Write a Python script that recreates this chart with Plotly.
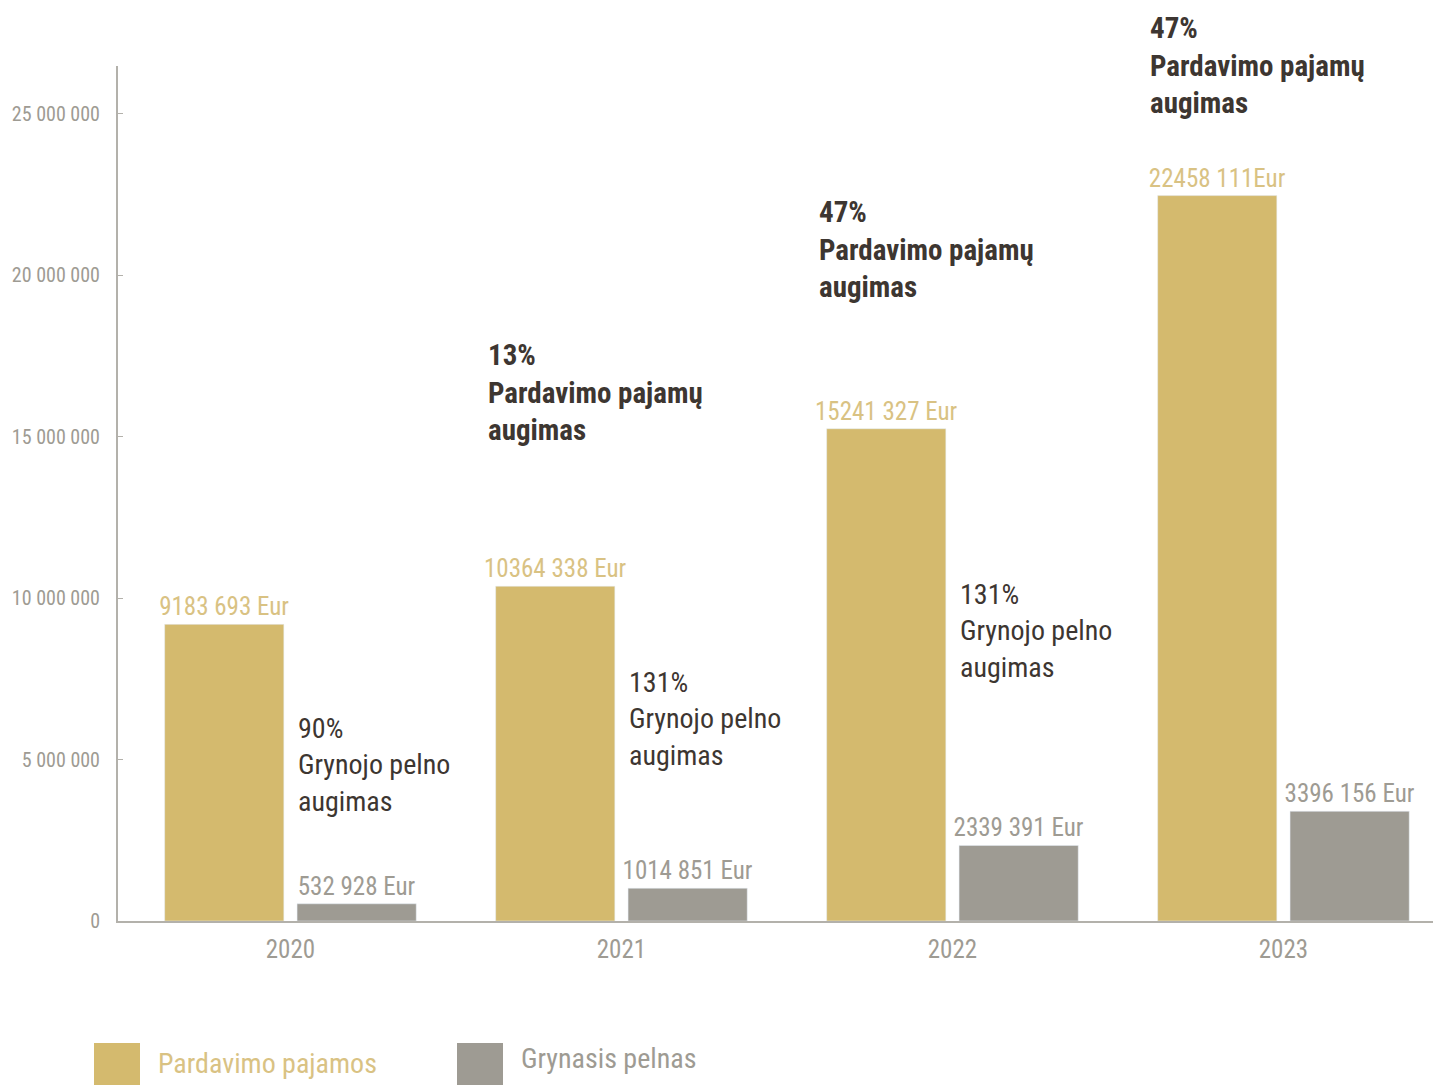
import plotly.graph_objects as go

# data
years = ["2020", "2021", "2022", "2023"]
series_names = ["Pardavimo pajamos", "Grynasis pelnas"]
revenue = [9183693, 10364338, 15241327, 22458111]
net_profit = [532928, 1014851, 2339391, 3396156]
revenue_labels = ["9183 693 Eur", "10364 338 Eur", "15241 327 Eur", "22458 111Eur"]
profit_labels = ["532 928 Eur", "1014 851 Eur", "2339 391 Eur", "3396 156 Eur"]
revenue_growth = ["", "13%", "47%", "47%"]
profit_growth = ["90%", "131%", "131%", ""]
y_ticks = [0, 5000000, 10000000, 15000000, 20000000, 25000000]
y_tick_text = ["0", "5 000 000", "10 000 000", "15 000 000", "20 000 000", "25 000 000"]

GOLD = "#d4ba6e"
GOLD_TXT = "#d9c283"
GREY = "#9e9b93"
DARK = "#3d3631"
FONT = "Roboto Condensed, Roboto, sans-serif"

fig = go.Figure()
fig.add_trace(go.Bar(x=years, y=revenue, name=series_names[0], marker_color=GOLD,
                     text=revenue_labels, textposition="outside", cliponaxis=False,
                     constraintext="none",
                     outsidetextfont=dict(color=GOLD_TXT, size=25, family=FONT)))
fig.add_trace(go.Bar(x=years, y=net_profit, name=series_names[1], marker_color=GREY,
                     text=profit_labels, textposition="outside", cliponaxis=False,
                     constraintext="none",
                     outsidetextfont=dict(color=GREY, size=25, family=FONT)))


# screen pixel row -> paper fraction (plot area shows from y=66 to y=921)
def py(p):
    return (921 - p) / 855


rev_tops = [None, 336, 193, 9]
for i, g in enumerate(revenue_growth):
    if g:
        fig.add_annotation(x=i, y=py(rev_tops[i]), xref="x", yref="paper",
                           xanchor="left", yanchor="top", xshift=-135, align="left",
                           showarrow=False,
                           text=f"<b>{g}<br>Pardavimo pajamų<br>augimas</b>",
                           font=dict(size=29, color=DARK, family=FONT))

prof_tops = [710, 664, 576, None]
for i, g in enumerate(profit_growth):
    if g:
        fig.add_annotation(x=i, y=py(prof_tops[i]), xref="x", yref="paper",
                           xanchor="left", yanchor="top", xshift=6, align="left",
                           showarrow=False,
                           text=f"{g}<br>Grynojo pelno<br>augimas",
                           font=dict(size=28, color=DARK, family=FONT))

# legend drawn by hand (big swatches)
leg_x = [94, 457]
leg_col = [GOLD, GREY]
leg_txt = [GOLD_TXT, GREY]
for k in range(2):
    x0 = (leg_x[k] - 118) / 1323
    x1 = (leg_x[k] + 46 - 118) / 1323
    fig.add_shape(type="rect", xref="paper", yref="paper", x0=x0, x1=x1,
                  y0=py(1090), y1=py(1043), fillcolor=leg_col[k], line_width=0)
    fig.add_annotation(xref="paper", yref="paper", x=(leg_x[k] + 62 - 118) / 1323,
                       y=py(1063 if k == 0 else 1058), xanchor="left", yanchor="middle",
                       showarrow=False, text=series_names[k],
                       font=dict(size=28, color=leg_txt[k], family=FONT))

# page body adds an 8px margin, so the figure is drawn 8px smaller
fig.update_layout(
    width=1433, height=1077,
    margin=dict(l=110, r=0, t=58, b=164),
    paper_bgcolor="white", plot_bgcolor="white",
    barmode="group", bargap=0.2, bargroupgap=0.1,
    showlegend=False,
    font=dict(family=FONT, color=GREY),
)
fig.update_xaxes(type="category", range=[-0.521, 3.476], automargin=False,
                 showline=True, linecolor="#b3b1ab", linewidth=2,
                 ticks="", ticklabelstandoff=5, tickfont=dict(size=25, color=GREY),
                 showgrid=False, zeroline=False)
fig.update_yaxes(range=[0, 855 / 32.3 * 1e6], automargin=False,
                 tickvals=y_ticks, ticktext=y_tick_text,
                 showline=True, linecolor="#b3b1ab", linewidth=2,
                 ticks="inside", ticklen=5, tickcolor="#b3b1ab",
                 ticklabelstandoff=12, tickfont=dict(size=20, color=GREY),
                 showgrid=False, zeroline=False)

fig.write_html("out.html")
